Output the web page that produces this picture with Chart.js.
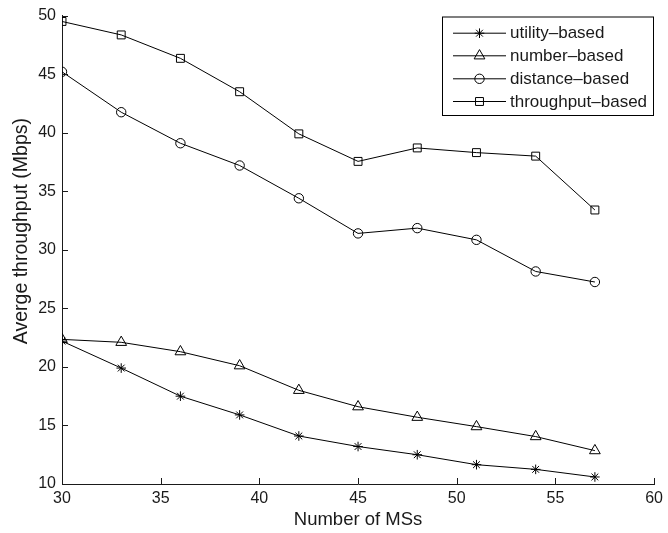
<!DOCTYPE html>
<html>
<head>
<meta charset="utf-8">
<script src="https://cdn.jsdelivr.net/npm/chart.js@4"></script>
<style>
html,body{margin:0;padding:0;background:#fff;}
#wrap{width:668px;height:533px;position:relative;}
</style>
</head>
<body>
<div id="wrap"><canvas id="c"></canvas></div>
<script>
const xValues = [30, 33, 36, 39, 42, 45, 48, 51, 54, 57];
const utilityBased = [22.2, 19.9, 17.5, 15.9, 14.1, 13.2, 12.5, 11.65, 11.25, 10.6];
const numberBased = [22.35, 22.1, 21.3, 20.1, 18.0, 16.6, 15.7, 14.9, 14.05, 12.85];
const distanceBased = [45.2, 41.75, 39.1, 37.2, 34.4, 31.4, 31.85, 30.85, 28.15, 27.25];
const throughputBased = [49.5, 48.35, 46.35, 43.5, 39.9, 37.55, 38.7, 38.3, 38.0, 33.4];
const seriesNames = ['utility\u2013based', 'number\u2013based', 'distance\u2013based', 'throughput\u2013based'];
const xTicks = [30, 35, 40, 45, 50, 55, 60];
const yTicks = [10, 15, 20, 25, 30, 35, 40, 45, 50];
const xTitle = 'Number of MSs';
const yTitle = 'Averge throughput (Mbps)';

const FONT = '"Liberation Sans", Arial, Helvetica, sans-serif';
const INK = '#1a1a1a';

const styles = [
  {pointStyle: 'star', radius: 4.8},
  {pointStyle: 'triangle', radius: 6.2},
  {pointStyle: 'circle', radius: 4.7},
  {pointStyle: 'rect', radius: 5.6}
];
const allSeries = [utilityBased, numberBased, distanceBased, throughputBased];

const datasets = allSeries.map((vals, i) => ({
  label: seriesNames[i],
  data: xValues.map((x, j) => ({x: x, y: vals[j]})),
  borderColor: '#000',
  borderWidth: 1,
  backgroundColor: 'rgba(0,0,0,0)',
  pointStyle: styles[i].pointStyle,
  pointRadius: styles[i].radius,
  pointHoverRadius: styles[i].radius,
  pointBorderColor: '#000',
  pointBackgroundColor: 'rgba(0,0,0,0)',
  pointBorderWidth: 1,
  tension: 0,
  fill: false
}));

const inwardTicks = {
  id: 'inwardTicks',
  afterDraw(chart) {
    const ctx = chart.ctx;
    const xs = chart.scales.x, ys = chart.scales.y;
    const area = chart.chartArea;
    ctx.save();
    ctx.strokeStyle = INK;
    ctx.lineWidth = 1;
    ctx.beginPath();
    xTicks.forEach(v => {
      const px = Math.round(xs.getPixelForValue(v)) + 0.5;
      ctx.moveTo(px, area.bottom);
      ctx.lineTo(px, area.bottom - 6);
    });
    yTicks.forEach(v => {
      const py = Math.round(ys.getPixelForValue(v)) + 0.5;
      ctx.moveTo(area.left, py);
      ctx.lineTo(area.left + 6, py);
    });
    ctx.stroke();
    // y axis title
    ctx.fillStyle = INK;
    ctx.font = '19.5px ' + FONT;
    ctx.textAlign = 'center';
    ctx.textBaseline = 'middle';
    ctx.translate(21.5, ys.getPixelForValue(31.6));
    ctx.rotate(-Math.PI / 2);
    ctx.fillText(yTitle, 0, 0);
    ctx.restore();
  }
};

const lineLegend = {
  id: 'lineLegend',
  afterDraw(chart) {
    const ctx = chart.ctx;
    const bx = 442, by = 16.5, bw = 211, bh = 98.5;
    ctx.save();
    ctx.fillStyle = '#fff';
    ctx.fillRect(bx, by, bw, bh);
    ctx.strokeStyle = '#000';
    ctx.lineWidth = 1;
    ctx.strokeRect(bx + 0.5, by + 0.5, bw, bh);
    const rowY = [32.7, 55.3, 78.3, 101];
    seriesNames.forEach((name, i) => {
      const y = rowY[i];
      ctx.strokeStyle = '#000';
      ctx.lineWidth = 1;
      ctx.beginPath();
      ctx.moveTo(453, y + 0.5);
      ctx.lineTo(506, y + 0.5);
      ctx.stroke();
      ctx.fillStyle = 'rgba(0,0,0,0)';
      Chart.helpers.drawPoint(ctx, {
        pointStyle: styles[i].pointStyle,
        radius: styles[i].radius,
        rotation: 0,
        borderWidth: 1
      }, 479.5, y + 0.5);
      ctx.fillStyle = INK;
      ctx.font = '17px ' + FONT;
      ctx.textAlign = 'left';
      ctx.textBaseline = 'middle';
      ctx.fillText(name, 510, y + 1);
    });
    ctx.restore();
  }
};

new Chart(document.getElementById('c'), {
  type: 'line',
  data: {datasets: datasets},
  options: {
    responsive: true,
    maintainAspectRatio: false,
    animation: false,
    devicePixelRatio: 1,
    layout: {padding: {top: 14.5, right: 11.3, left: 0, bottom: 0}},
    plugins: {legend: {display: false}, tooltip: {enabled: false}},
    scales: {
      x: {
        type: 'linear',
        min: 30, max: 60,
        afterFit: s => { s.height = 49; },
        afterBuildTicks: s => { s.ticks = xTicks.map(v => ({value: v})); },
        grid: {display: false, drawTicks: false},
        border: {display: true, color: INK, width: 1},
        ticks: {color: INK, font: {family: FONT, size: 16}, padding: 5, maxRotation: 0, autoSkip: false},
        title: {display: true, text: xTitle, color: INK, font: {family: FONT, size: 18.5}, padding: {top: 0, bottom: 1.5}}
      },
      y: {
        type: 'linear',
        min: 10, max: 50,
        afterFit: s => { s.width = 62; },
        afterBuildTicks: s => { s.ticks = yTicks.map(v => ({value: v})); },
        grid: {display: false, drawTicks: false},
        border: {display: true, color: INK, width: 1},
        ticks: {color: INK, font: {family: FONT, size: 16}, padding: 6, autoSkip: false},
        title: {display: false}
      }
    }
  },
  plugins: [inwardTicks, lineLegend]
});
</script>
</body>
</html>
